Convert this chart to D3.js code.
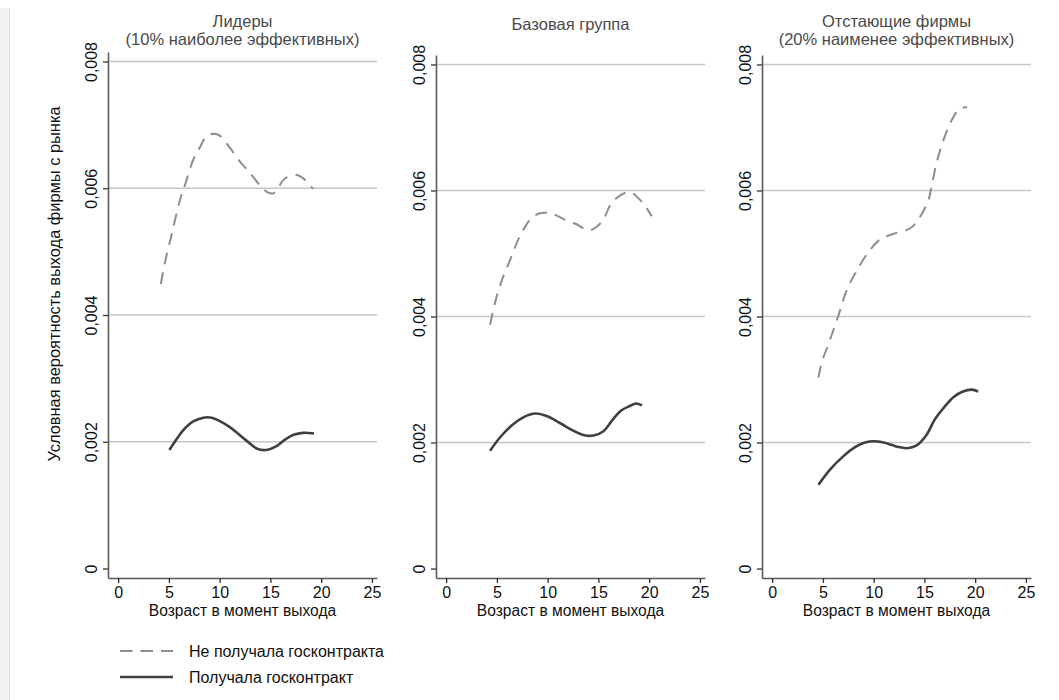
<!DOCTYPE html>
<html>
<head>
<meta charset="utf-8">
<script src="https://cdn.jsdelivr.net/npm/d3@7"></script>
<style>
  body { margin: 0; background: #fff; }
  svg { font-family: "Liberation Sans", Arial, sans-serif; }
</style>
</head>
<body>
<div id="chart"></div>
<script>
// panel titles and axis labels
var panelTitles = [
    ["Лидеры", "(10% наиболее эффективных)"],
    ["Базовая группа"],
    ["Отстающие фирмы", "(20% наименее эффективных)"]
];
var xTicks = [0, 5, 10, 15, 20, 25];
var yTicks = [0, 0.002, 0.004, 0.006, 0.008];
var xTitle = "Возраст в момент выхода";
var yTitle = "Условная вероятность выхода фирмы с рынка";
var legendLabels = ["Не получала госконтракта", "Получала госконтракт"];

// [age, probability]
var leadersNo = [[4.2,0.00449],[4.6,0.00482],[5.3,0.00529],[6.1,0.00582],[6.6,0.00606],[7.4,0.00645],[8.1,0.00666],[8.7,0.00682],[9.5,0.00686],[10.0,0.00683],[11.0,0.00664],[12.0,0.00642],[13.0,0.00624],[14.1,0.00602],[14.8,0.00593],[15.3,0.00592],[15.8,0.00602],[16.4,0.00615],[17.6,0.00621],[18.2,0.00616],[18.7,0.00608],[19.2,0.00599]];
var leadersYes = [[5.05,0.00187],[5.8,0.00205],[6.4,0.00218],[7.4,0.00232],[8.4,0.00238],[9.2,0.00238],[10.2,0.00231],[11.0,0.00223],[11.8,0.00213],[12.7,0.00201],[13.7,0.00189],[14.6,0.00187],[15.6,0.00193],[16.4,0.00203],[17.3,0.00211],[18.2,0.00214],[19.3,0.00213]];
var baseNo = [[4.33,0.00387],[4.8,0.00421],[5.5,0.00458],[6.3,0.0049],[7.1,0.00522],[7.8,0.00543],[8.4,0.00556],[9.25,0.00564],[10.2,0.00564],[11.05,0.00559],[12.0,0.00551],[12.9,0.00546],[13.5,0.0054],[14.2,0.00537],[14.8,0.00542],[15.5,0.00554],[16.1,0.00575],[16.8,0.00588],[17.8,0.00597],[18.4,0.00595],[19.1,0.00585],[19.75,0.00572],[20.25,0.00559]];
var baseYes = [[4.33,0.00187],[5.3,0.00208],[6.6,0.00229],[7.6,0.0024],[8.8,0.00246],[9.9,0.00242],[11.2,0.00231],[12.5,0.00219],[13.5,0.00212],[14.5,0.00211],[15.5,0.00218],[16.3,0.00234],[17.1,0.00249],[18.1,0.00258],[18.7,0.00262],[19.3,0.00259]];
var laggardsNo = [[4.56,0.00303],[4.9,0.00328],[5.45,0.00352],[6.5,0.004],[7.35,0.00442],[8.2,0.00469],[9.3,0.00498],[10.6,0.00522],[11.9,0.00531],[13.6,0.0054],[14.6,0.00559],[15.4,0.00585],[15.7,0.00606],[16.2,0.00644],[16.9,0.00681],[17.7,0.00712],[18.35,0.00728],[19.0,0.00732],[19.2,0.00732]];
var laggardsYes = [[4.56,0.00133],[5.7,0.00157],[7.0,0.00178],[8.2,0.00193],[9.15,0.002],[10.0,0.00202],[11.0,0.002],[11.8,0.00196],[12.4,0.00193],[13.3,0.00191],[14.2,0.00195],[15.2,0.00212],[16.0,0.00236],[16.9,0.00255],[17.85,0.00272],[18.8,0.00281],[19.65,0.00284],[20.3,0.00281]];

var seriesNo = [leadersNo, baseNo, laggardsNo];
var seriesYes = [leadersYes, baseYes, laggardsYes];

// layout
var panelLeft = [108, 436, 762];
var panelTop = [52, 55, 55];
var panelWidth = 269;
var panelBottom = 578;
var dashColor = "#8e8e8e";
var solidColor = "#404040";

var ruLocale = d3.formatLocale({decimal: ",", thousands: " ", grouping: [3], currency: ["", ""]});
var fmt = ruLocale.format(".3f");

var svg = d3.select("#chart")
    .append("svg")
    .attr("width", 1059)
    .attr("height", 700);

// light strip on the left edge
svg.append("rect")
    .attr("x", 0).attr("y", 8)
    .attr("width", 9).attr("height", 692)
    .attr("fill", "#f1f1f1");
svg.append("line")
    .attr("x1", 9.5).attr("x2", 9.5)
    .attr("y1", 8).attr("y2", 700)
    .attr("stroke", "#e2e2e2");

function drawPanel(i){
    var x = d3.scaleLinear().domain([-1, 25.5]).range([0, panelWidth]);
    var y = d3.scaleLinear().domain([-0.00015, 0.00815]).range([panelBottom - panelTop[i], 0]);

    var g = svg.append("g")
        .attr("transform", "translate(" + panelLeft[i] + "," + panelTop[i] + ")");

    // gridlines
    g.append("g")
        .selectAll("line")
        .data(yTicks.filter(function(d){ return d > 0; }))
        .enter()
        .append("line")
        .attr("x1", 0)
        .attr("x2", panelWidth)
        .attr("y1", function(d){ return y(d); })
        .attr("y2", function(d){ return y(d); })
        .attr("stroke", "#c6c6c6")
        .attr("stroke-width", 1.5);

    // y axis
    var ya = g.append("g")
        .call(d3.axisLeft(y).tickValues(yTicks).tickSize(5).tickSizeOuter(0)
            .tickFormat(function(d){ return d === 0 ? "0" : fmt(d); }));
    ya.select(".domain").attr("stroke", "#5a5a5a").attr("stroke-width", 1.6);
    ya.selectAll(".tick line").attr("stroke", "#333").attr("stroke-width", 1.3);
    ya.selectAll(".tick text")
        .attr("x", 0)
        .attr("y", -11)
        .attr("dy", 0)
        .attr("transform", "rotate(-90)")
        .style("text-anchor", "middle")
        .style("font-size", "16px")
        .attr("fill", "#111");

    // x axis
    var xa = g.append("g")
        .attr("transform", "translate(0," + (panelBottom - panelTop[i]) + ")")
        .call(d3.axisBottom(x).tickValues(xTicks).tickSize(5).tickSizeOuter(0).tickPadding(4));
    xa.select(".domain").attr("stroke", "#5a5a5a").attr("stroke-width", 1.6);
    xa.selectAll(".tick line").attr("stroke", "#333").attr("stroke-width", 1.3);
    xa.selectAll(".tick text")
        .style("font-size", "16px")
        .attr("fill", "#111");

    // x title
    g.append("text")
        .attr("x", panelWidth / 2)
        .attr("y", 616 - panelTop[i])
        .attr("text-anchor", "middle")
        .style("font-size", "15.6px")
        .attr("fill", "#111")
        .text(xTitle);

    // panel title
    var lines = panelTitles[i];
    var firstBase = lines.length == 2 ? 26.5 : 30;
    g.append("g")
        .selectAll("text")
        .data(lines)
        .enter()
        .append("text")
        .attr("x", panelWidth / 2)
        .attr("y", function(d, k){ return firstBase + k * 18.8 - panelTop[i]; })
        .attr("text-anchor", "middle")
        .style("font-size", "16.5px")
        .attr("fill", "#4a4a4a")
        .text(function(d){ return d; });

    var line = d3.line()
        .x(function(d){ return x(d[0]); })
        .y(function(d){ return y(d[1]); })
        .curve(d3.curveCatmullRom.alpha(0.5));

    g.append("path")
        .datum(seriesNo[i])
        .attr("d", line)
        .attr("fill", "none")
        .attr("stroke", dashColor)
        .attr("stroke-width", 2)
        .attr("stroke-dasharray", "12,8");

    g.append("path")
        .datum(seriesYes[i])
        .attr("d", line)
        .attr("fill", "none")
        .attr("stroke", solidColor)
        .attr("stroke-width", 2.6)
        .attr("stroke-linejoin", "round");
}

for (var i = 0; i < 3; i++) drawPanel(i);

// y title
svg.append("text")
    .attr("transform", "translate(60,284) rotate(-90)")
    .attr("text-anchor", "middle")
    .style("font-size", "16.4px")
    .attr("fill", "#111")
    .text(yTitle);

// legend
var legend = svg.append("g")
    .selectAll("g")
    .data(legendLabels)
    .enter()
    .append("g")
    .attr("transform", function(d, k){ return "translate(120," + (651 + k * 26) + ")"; });

legend.append("line")
    .attr("x1", 0).attr("x2", 53)
    .attr("y1", 0).attr("y2", 0)
    .attr("stroke", function(d, k){ return k == 0 ? dashColor : solidColor; })
    .attr("stroke-width", function(d, k){ return k == 0 ? 2 : 2.6; })
    .attr("stroke-dasharray", function(d, k){ return k == 0 ? "12.5,8" : null; });

legend.append("text")
    .attr("x", 69)
    .attr("y", 6)
    .style("font-size", "16px")
    .attr("fill", "#111")
    .text(function(d){ return d; });
</script>
</body>
</html>
